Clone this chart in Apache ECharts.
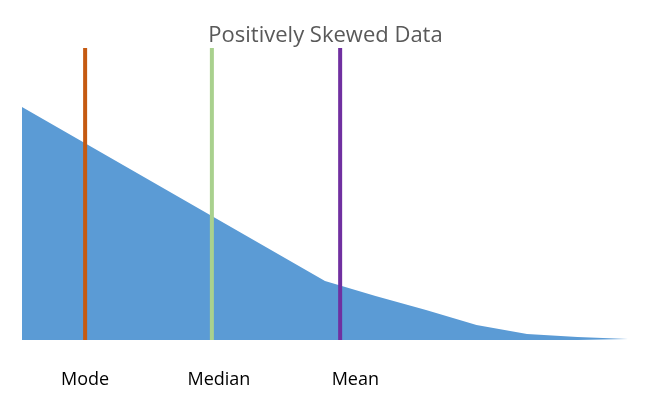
<!DOCTYPE html>
<html><head><meta charset="utf-8">
<script src="https://cdn.jsdelivr.net/npm/echarts@6/dist/echarts.min.js"></script>
<style>html,body{margin:0;background:#fff}#c{width:651px;height:408px}</style>
</head><body><div id="c"></div>
<script>
const densityValues = [233,204,175,146,117,88,59,44,30,15,6,3,1];
const markerNames = ['Mode','Median','Mean'];
const markerPositions = [1.25,3.76,6.3];
const markerColors = ['#C55A11','#A9D18E','#7030A0'];
const labelPositions = [1.25,3.9,6.6];
const yTop = 292;

const chart = echarts.init(document.getElementById('c'));
const series = [{
  type:'line', data: densityValues.map((v,i)=>[i,v]), symbol:'none',
  lineStyle:{width:0}, areaStyle:{color:'#5B9BD5',opacity:1}, silent:true
}];
markerPositions.forEach((x,k)=>{
  series.push({type:'line', data:[[x,0],[x,yTop]], symbol:'none',
    lineStyle:{width:4,color:markerColors[k]}, silent:true, z:3});
});
chart.setOption({
  animation:false,
  title:{text:'Positively Skewed Data',left:'center',top:20,
    textStyle:{fontFamily:'Open Sans',fontWeight:'normal',fontSize:22,color:'#595959'}},
  grid:{left:22,right:23,top:48,bottom:68},
  xAxis:{type:'value',min:0,max:12,show:false},
  yAxis:{type:'value',min:0,max:yTop,show:false},
  series:series
});
const w = chart.getWidth();
chart.setOption({graphic: markerNames.map((n,k)=>({
  type:'text', x: chart.convertToPixel({xAxisIndex:0},labelPositions[k]), y:380,
  style:{text:n, fill:'#000', font:'18px "Open Sans"', align:'center', verticalAlign:'middle'}
}))});
</script></body></html>
